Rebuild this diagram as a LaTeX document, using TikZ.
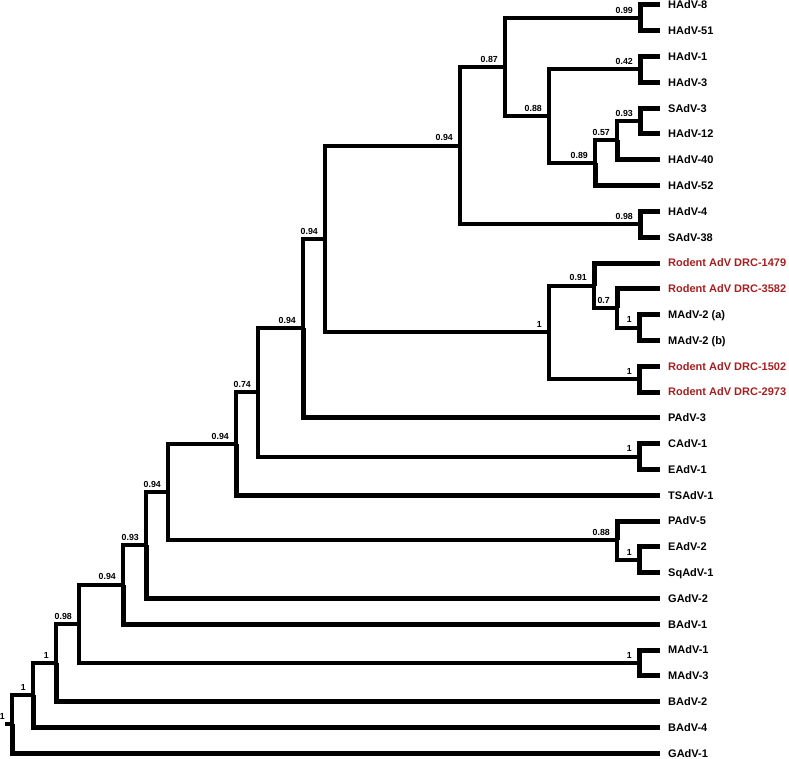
\documentclass[tikz,border=0pt]{standalone}
\usepackage{fontspec}
\setmainfont{Liberation Sans}
\usetikzlibrary{positioning}
\definecolor{rodent}{RGB}{165,32,32}

\begin{document}
\begin{tikzpicture}[x=1pt,y=-1pt,
	leaf/.style={anchor=west,inner xsep=8pt,inner ysep=0pt,text height=7.9pt,text depth=0pt,font=\fontsize{11}{13}\selectfont\bfseries},
	newleaf/.style={leaf,text=rodent},
	branch/.style={line width=4pt,line join=miter},
	tip/.style={line width=5pt,line join=miter},
	supp/.style={anchor=south east,inner sep=0pt,xshift=-7pt,yshift=4.5pt,font=\fontsize{8.8}{10}\selectfont\bfseries}]
		\useasboundingbox (0,0) rectangle (789,759);
		% leaves
		\draw (660,5.0) node[leaf] (h8) {HAdV-8};
		\draw (660,30.8) node[leaf] (h51) {HAdV-51};
		\draw (660,56.6) node[leaf] (h1) {HAdV-1};
		\draw (660,82.4) node[leaf] (h3) {HAdV-3};
		\draw (660,108.2) node[leaf] (s3) {SAdV-3};
		\draw (660,134.0) node[leaf] (h12) {HAdV-12};
		\draw (660,159.8) node[leaf] (h40) {HAdV-40};
		\draw (660,185.6) node[leaf] (h52) {HAdV-52};
		\draw (660,211.4) node[leaf] (h4) {HAdV-4};
		\draw (660,237.2) node[leaf] (s38) {SAdV-38};
		\draw (660,263.0) node[newleaf] (r1479) {Rodent AdV DRC-1479};
		\draw (660,288.8) node[newleaf] (r3582) {Rodent AdV DRC-3582};
		\draw (660,314.6) node[leaf] (m2a) {MAdV-2 (a)};
		\draw (660,340.4) node[leaf] (m2b) {MAdV-2 (b)};
		\draw (660,366.2) node[newleaf] (r1502) {Rodent AdV DRC-1502};
		\draw (660,392.0) node[newleaf] (r2973) {Rodent AdV DRC-2973};
		\draw (660,417.8) node[leaf] (p3) {PAdV-3};
		\draw (660,443.6) node[leaf] (c1) {CAdV-1};
		\draw (660,469.4) node[leaf] (e1) {EAdV-1};
		\draw (660,495.2) node[leaf] (ts1) {TSAdV-1};
		\draw (660,521.0) node[leaf] (p5) {PAdV-5};
		\draw (660,546.8) node[leaf] (e2) {EAdV-2};
		\draw (660,572.6) node[leaf] (sq1) {SqAdV-1};
		\draw (660,598.4) node[leaf] (g2) {GAdV-2};
		\draw (660,624.2) node[leaf] (b1) {BAdV-1};
		\draw (660,650.0) node[leaf] (m1) {MAdV-1};
		\draw (660,675.8) node[leaf] (m3) {MAdV-3};
		\draw (660,701.6) node[leaf] (b2) {BAdV-2};
		\draw (660,727.4) node[leaf] (b4) {BAdV-4};
		\draw (660,753.2) node[leaf] (g1) {GAdV-1};
		% internal nodes
		\coordinate (n8x51) at (640,17.9);
		\coordinate (n1x3) at (640,69.5);
		\coordinate (n3x12) at (640,121.1);
		\coordinate (n57) at (617,140.45);
		\coordinate (n89) at (595,163.0);
		\coordinate (n88) at (549,116.26);
		\coordinate (n87) at (505,67.08);
		\coordinate (n4x38) at (640,224.3);
		\coordinate (nHum) at (460,145.69);
		\coordinate (nM2) at (639,327.5);
		\coordinate (n70) at (617,308.15);
		\coordinate (n91) at (594,285.58);
		\coordinate (n1502) at (639,379.1);
		\coordinate (nRod) at (549,332.34);
		\coordinate (nA) at (325,239.01);
		\coordinate (nB) at (303,328.41);
		\coordinate (nCE) at (639,456.5);
		\coordinate (n74) at (258,392.45);
		\coordinate (nD) at (236,443.83);
		\coordinate (nSq) at (639,559.7);
		\coordinate (nP5) at (617,540.35);
		\coordinate (nG) at (168,492.09);
		\coordinate (nH) at (146,545.24);
		\coordinate (nI) at (123,584.72);
		\coordinate (nM13) at (639,662.9);
		\coordinate (nK) at (79,623.81);
		\coordinate (nL) at (56,662.71);
		\coordinate (nM) at (33,695.05);
		\coordinate (nRoot) at (12,724.13);
		\coordinate (stub) at (5,724.13);
		% branches to leaves
		\draw[tip] (n8x51) |- (h8.west);
		\draw[tip] (n8x51) |- (h51.west);
		\draw[tip] (n1x3) |- (h1.west);
		\draw[tip] (n1x3) |- (h3.west);
		\draw[tip] (n3x12) |- (s3.west);
		\draw[tip] (n3x12) |- (h12.west);
		\draw[tip] (n57) |- (h40.west);
		\draw[tip] (n89) |- (h52.west);
		\draw[tip] (n4x38) |- (h4.west);
		\draw[tip] (n4x38) |- (s38.west);
		\draw[tip] (n91) |- (r1479.west);
		\draw[tip] (n70) |- (r3582.west);
		\draw[tip] (nM2) |- (m2a.west);
		\draw[tip] (nM2) |- (m2b.west);
		\draw[tip] (n1502) |- (r1502.west);
		\draw[tip] (n1502) |- (r2973.west);
		\draw[tip] (nB) |- (p3.west);
		\draw[tip] (nCE) |- (c1.west);
		\draw[tip] (nCE) |- (e1.west);
		\draw[tip] (nD) |- (ts1.west);
		\draw[tip] (nP5) |- (p5.west);
		\draw[tip] (nSq) |- (e2.west);
		\draw[tip] (nSq) |- (sq1.west);
		\draw[tip] (nH) |- (g2.west);
		\draw[tip] (nI) |- (b1.west);
		\draw[tip] (nM13) |- (m1.west);
		\draw[tip] (nM13) |- (m3.west);
		\draw[tip] (nL) |- (b2.west);
		\draw[tip] (nM) |- (b4.west);
		\draw[tip] (nRoot) |- (g1.west);
		% branches between internal nodes
		\draw[branch] (n57) |- (n3x12);
		\draw[branch] (n89) |- (n57);
		\draw[branch] (n88) |- (n1x3);
		\draw[branch] (n88) |- (n89);
		\draw[branch] (n87) |- (n8x51);
		\draw[branch] (n87) |- (n88);
		\draw[branch] (nHum) |- (n87);
		\draw[branch] (nHum) |- (n4x38);
		\draw[branch] (n70) |- (nM2);
		\draw[branch] (n91) |- (n70);
		\draw[branch] (nRod) |- (n91);
		\draw[branch] (nRod) |- (n1502);
		\draw[branch] (nA) |- (nHum);
		\draw[branch] (nA) |- (nRod);
		\draw[branch] (nB) |- (nA);
		\draw[branch] (n74) |- (nB);
		\draw[branch] (n74) |- (nCE);
		\draw[branch] (nD) |- (n74);
		\draw[branch] (nP5) |- (nSq);
		\draw[branch] (nG) |- (nD);
		\draw[branch] (nG) |- (nP5);
		\draw[branch] (nH) |- (nG);
		\draw[branch] (nI) |- (nH);
		\draw[branch] (nK) |- (nI);
		\draw[branch] (nK) |- (nM13);
		\draw[branch] (nL) |- (nK);
		\draw[branch] (nM) |- (nL);
		\draw[branch] (nRoot) |- (nM);
		\draw[branch] (stub) -- (nRoot);
		% support values
		\draw (n8x51) node[supp] {0.99};
		\draw (n1x3) node[supp] {0.42};
		\draw (n3x12) node[supp] {0.93};
		\draw (n57) node[supp] {0.57};
		\draw (n89) node[supp] {0.89};
		\draw (n88) node[supp] {0.88};
		\draw (n87) node[supp] {0.87};
		\draw (n4x38) node[supp] {0.98};
		\draw (nHum) node[supp] {0.94};
		\draw (nM2) node[supp] {1};
		\draw (n70) node[supp] {0.7};
		\draw (n91) node[supp] {0.91};
		\draw (n1502) node[supp] {1};
		\draw (nRod) node[supp] {1};
		\draw (nA) node[supp] {0.94};
		\draw (nB) node[supp] {0.94};
		\draw (nCE) node[supp] {1};
		\draw (n74) node[supp] {0.74};
		\draw (nD) node[supp] {0.94};
		\draw (nSq) node[supp] {1};
		\draw (nP5) node[supp] {0.88};
		\draw (nG) node[supp] {0.94};
		\draw (nH) node[supp] {0.93};
		\draw (nI) node[supp] {0.94};
		\draw (nM13) node[supp] {1};
		\draw (nK) node[supp] {0.98};
		\draw (nL) node[supp] {1};
		\draw (nM) node[supp] {1};
		\draw (nRoot) node[supp] {1};
	\end{tikzpicture}
\end{document}
